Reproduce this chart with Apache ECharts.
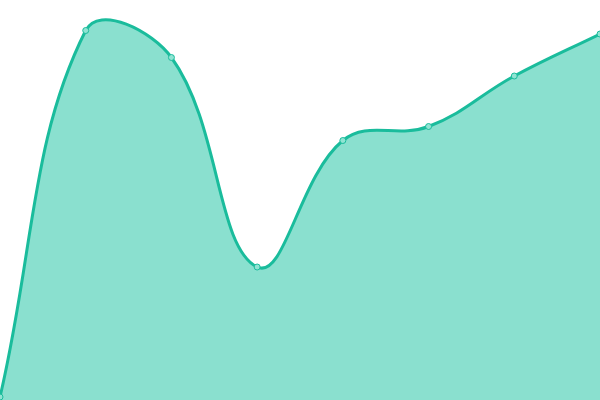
<!DOCTYPE html>
<html><head><meta charset="utf-8">
<script src="https://cdn.jsdelivr.net/npm/echarts@6/dist/echarts.min.js"></script>
<style>html,body{margin:0;padding:0;background:#fff}#c{width:600px;height:400px}</style>
</head><body><div id="c"></div>
<script>
const categories = ['1','2','3','4','5','6','7','8'];
const values = [3, 369.5, 342.5, 133, 259.5, 273.5, 324, 366];

// Cardinal spline with tension (same style as the reference's smoothing)
const CurveShape = echarts.graphic.extendShape({
  shape: {points: [], tension: 0.4, baseY: null, area: false, box: null},
  buildPath: function (ctx, shape) {
    const pts = shape.points, t = shape.tension, n = pts.length;
    if (!n) return;
    const box = shape.box;
    const cap = function (p) {
      if (!box) return p;
      return [Math.min(Math.max(p[0], box[0]), box[2]), Math.min(Math.max(p[1], box[1]), box[3])];
    };
    const cpPrev = [], cpNext = [];
    for (let i = 0; i < n; i++) {
      const p = pts[i], pr = pts[i - 1] || p, nx = pts[i + 1] || p;
      const d01 = Math.hypot(p[0] - pr[0], p[1] - pr[1]);
      const d12 = Math.hypot(nx[0] - p[0], nx[1] - p[1]);
      let s01 = d01 / (d01 + d12), s12 = d12 / (d01 + d12);
      if (isNaN(s01)) s01 = 0;
      if (isNaN(s12)) s12 = 0;
      const fa = t * s01, fb = t * s12;
      cpPrev.push(cap([p[0] - fa * (nx[0] - pr[0]), p[1] - fa * (nx[1] - pr[1])]));
      cpNext.push(cap([p[0] + fb * (nx[0] - pr[0]), p[1] + fb * (nx[1] - pr[1])]));
    }
    ctx.moveTo(pts[0][0], pts[0][1]);
    for (let i = 1; i < n; i++) {
      ctx.bezierCurveTo(cpNext[i - 1][0], cpNext[i - 1][1], cpPrev[i][0], cpPrev[i][1], pts[i][0], pts[i][1]);
    }
    if (shape.area) {
      ctx.lineTo(pts[n - 1][0], shape.baseY);
      ctx.lineTo(pts[0][0], shape.baseY);
      ctx.closePath();
    }
  }
});
echarts.graphic.registerShape('cardinalCurve', CurveShape);

const lineColor = '#1abc9c';
const areaColor = '#8ae0cf';
const markerFill = '#90e4d3';

const chart = echarts.init(document.getElementById('c'));
chart.setOption({
  animation: false,
  grid: {left: 0, right: 0, top: 0, bottom: 0},
  xAxis: {type: 'category', data: categories, boundaryGap: false, show: false},
  yAxis: {type: 'value', min: 0, max: 400, show: false},
  series: [{
    type: 'custom',
    data: values.map(function (v, i) { return [i, v]; }),
    encode: {x: 0, y: 1},
    renderItem: function (params, api) {
      const me = api.coord([api.value(0), api.value(1)]);
      const marker = {
        type: 'circle',
        shape: {cx: me[0], cy: me[1], r: 3},
        style: {fill: markerFill, stroke: lineColor, lineWidth: 1}
      };
      if (params.dataIndex !== 0) return marker;
      const pts = values.map(function (v, i) { return api.coord([i, v]); });
      const base = api.coord([0, 0])[1];
      const cs = params.coordSys;
      const box = [cs.x, cs.y, cs.x + cs.width, cs.y + cs.height];
      return {
        type: 'group',
        children: [
          {type: 'cardinalCurve', shape: {points: pts, tension: 0.4, area: true, baseY: base, box: box},
           style: {fill: areaColor, stroke: null, lineWidth: 0}},
          {type: 'cardinalCurve', shape: {points: pts, tension: 0.4, area: false, box: box},
           style: {fill: null, stroke: lineColor, lineWidth: 3}},
          marker
        ]
      };
    }
  }]
});
</script></body></html>
